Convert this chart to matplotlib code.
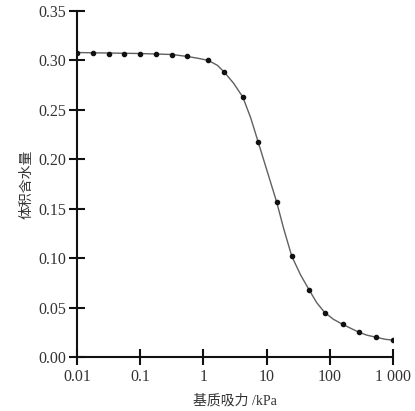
import numpy as np
import matplotlib
matplotlib.use('Agg')
import matplotlib.pyplot as plt

suction = [0.01, 0.018, 0.032, 0.056, 0.1, 0.18, 0.32, 0.56, 1.2, 2.15, 4.2, 7.4,
           14.4, 25, 47, 83, 160, 290, 540, 1000]
theta = [0.308, 0.308, 0.307, 0.307, 0.307, 0.307, 0.306, 0.304, 0.300, 0.288,
         0.263, 0.217, 0.157, 0.102, 0.068, 0.045, 0.033, 0.025, 0.020, 0.017]

# fitted curve
curve_x = [0.01, 0.1, 0.32, 0.56, 0.85, 1.2, 1.67, 2.15, 3.0, 4.2, 5.6, 7.4,
           10.2, 14.4, 18.6, 25, 34.5, 47, 62, 83, 115, 160, 215, 290, 390, 540, 740, 1000]
curve_y = [0.308, 0.307, 0.306, 0.304, 0.302, 0.300, 0.295, 0.288, 0.277, 0.263, 0.242, 0.217,
           0.188, 0.157, 0.130, 0.102, 0.083, 0.068, 0.055, 0.045, 0.038, 0.033, 0.029, 0.025,
           0.022, 0.020, 0.018, 0.017]

xticks = [0.01, 0.1, 1, 10, 100, 1000]
xticklabels = ['0.01', '0.1', '1', '10', '100', '1 000']
yticks = [0.00, 0.05, 0.10, 0.15, 0.20, 0.25, 0.30, 0.35]

plt.rcParams['font.family'] = ['Liberation Serif', 'Noto Sans CJK SC']

fig = plt.figure(figsize=(4.15, 4.11), dpi=100)
ax = fig.add_axes([0.1855, 0.1314, 0.7615, 0.8418])

ax.plot(curve_x, curve_y, '-', color='#606060', lw=1.0, zorder=2)
ax.plot(suction, theta, 'o', color='#111111', ms=3.0, zorder=3)

ax.set_xscale('log')
ax.set_xlim(0.01, 1000)
ax.set_ylim(0, 0.35)
ax.set_xticks(xticks)
ax.set_xticklabels(xticklabels)
ax.minorticks_off()
ax.set_yticks(yticks)
ax.set_yticklabels(['%.2f' % v for v in yticks])

for s in ['top', 'right']:
    ax.spines[s].set_visible(False)
for s in ['left', 'bottom']:
    ax.spines[s].set_linewidth(1.5)
    ax.spines[s].set_color('#111111')

ax.tick_params(axis='both', direction='inout', length=12, width=1.5, color='#111111',
               labelsize=11.5, labelcolor='#333333')
ax.tick_params(axis='y', pad=1.5)
ax.tick_params(axis='x', pad=3)

ax.set_xlabel('基质吸力 /kPa', fontsize=10, color='#333333', labelpad=6)
ax.set_ylabel('体积含水量', fontsize=10, color='#333333', labelpad=4)

plt.savefig('out.png', dpi=100)
